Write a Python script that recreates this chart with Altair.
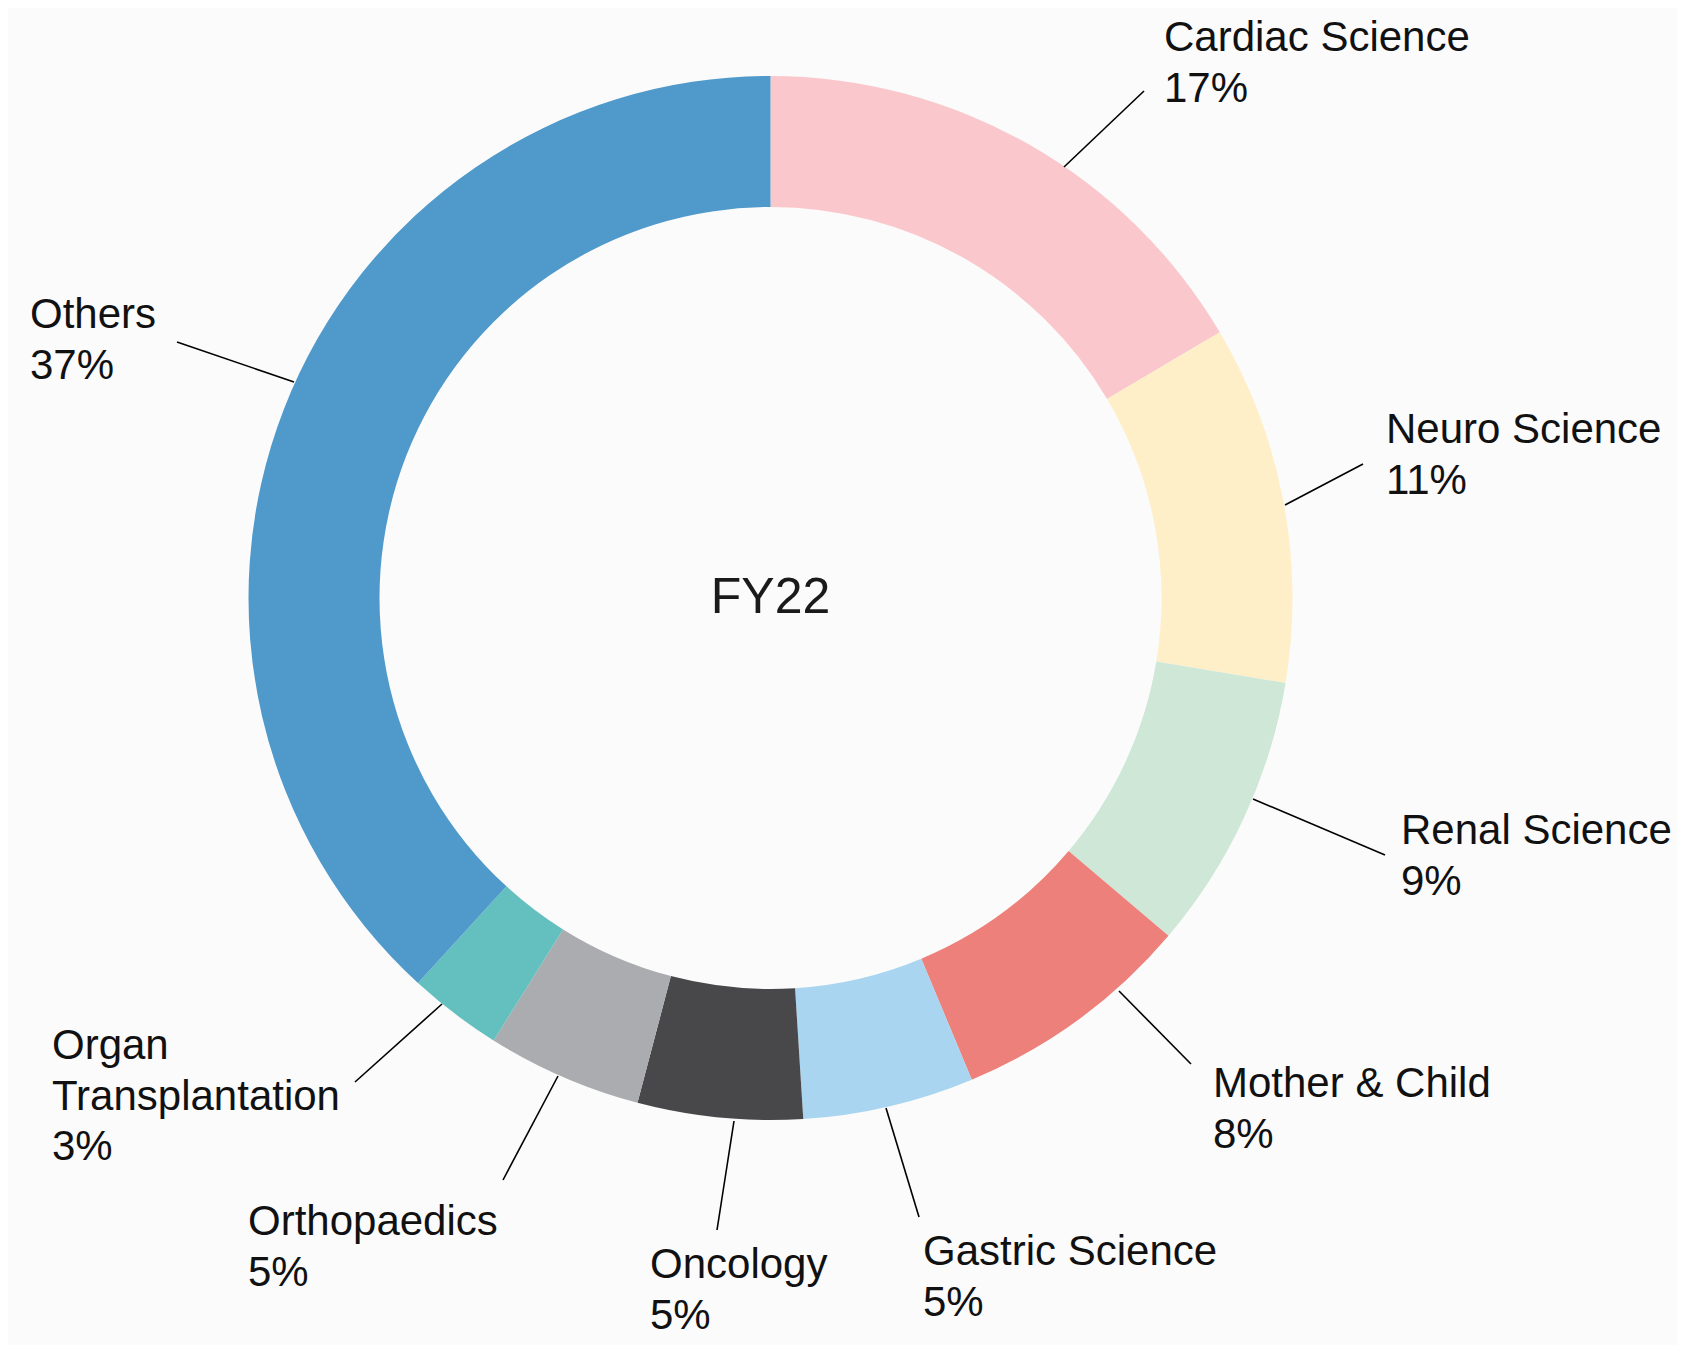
import altair as alt
import pandas as pd

# ---------------- data ----------------
categories = ["Cardiac Science", "Neuro Science", "Renal Science", "Mother & Child",
              "Gastric Science", "Oncology", "Orthopaedics", "Organ Transplantation", "Others"]
shares = [16.5, 11.1, 8.6, 7.5, 5.3, 5.1, 4.8, 2.9, 38.2]
pct_labels = ["17%", "11%", "9%", "8%", "5%", "5%", "5%", "3%", "37%"]
name_lines = [["Cardiac Science"], ["Neuro Science"], ["Renal Science"], ["Mother & Child"],
              ["Gastric Science"], ["Oncology"], ["Orthopaedics"], ["Organ", "Transplantation"],
              ["Others"]]
center_label = "FY22"

# ---------------- styles / layout ----------------
colors = ["#FAC8CC", "#FFEFC9", "#CEE7D6", "#EE807B", "#A9D5F0",
          "#48484A", "#ABACAF", "#64BFBF", "#4F99CB"]
W, H = 1669, 1337
CX, CY = 762.5, 590
R_OUT, R_IN = 522, 391
FONT = "Liberation Sans"
FS = 42
LINE_H = 50.5
# label anchor: left x, first-line centre y
label_pos = [(1156, 30), (1378, 422), (1393, 823), (1205, 1076), (915, 1244),
             (642, 1257), (240, 1214), (44, 1038), (22, 307)]
# leader lines: start, end
leaders = [((1056, 159), (1136, 83)), ((1277, 497), (1355, 456)), ((1245, 791), (1377, 847)),
           ((1111, 983), (1183, 1056)), ((878, 1100), (911, 1209)), ((726, 1113), (709, 1222)),
           ((550, 1068), (495, 1172)), ((434, 996), (347, 1074)), ((286, 374), (169, 334))]

# ---------------- tables ----------------
arc_df = pd.DataFrame({"category": categories, "share": shares, "order": list(range(len(categories)))})

rows = []
for i, (lines, pct) in enumerate(zip(name_lines, pct_labels)):
    x0, y0 = label_pos[i]
    for j, t in enumerate(lines + [pct]):
        rows.append({"x": x0, "y": y0 + j * LINE_H, "text": t})
text_df = pd.DataFrame(rows)

lead_df = pd.DataFrame([{"x": a[0], "y": a[1], "x2": b[0], "y2": b[1]} for a, b in leaders])

xs = alt.Scale(domain=[0, W], range=[0, W], nice=False, zero=False)
ys = alt.Scale(domain=[0, H], range=[0, H], nice=False, zero=False)

arc = alt.Chart(arc_df).mark_arc(radius=R_OUT, radius2=R_IN, stroke=None).encode(
    theta=alt.Theta("share:Q", stack=True),
    order=alt.Order("order:Q"),
    color=alt.Color("category:N", scale=alt.Scale(domain=categories, range=colors), legend=None),
    x=alt.value(CX),
    y=alt.value(CY),
)

lines_layer = alt.Chart(lead_df).mark_rule(color="#000000", strokeWidth=1.6).encode(
    x=alt.X("x:Q", scale=xs, axis=None),
    y=alt.Y("y:Q", scale=ys, axis=None),
    x2="x2:Q",
    y2="y2:Q",
)

labels = alt.Chart(text_df).mark_text(
    align="left", baseline="middle", font=FONT, fontSize=FS, color="#111111"
).encode(
    x=alt.X("x:Q", scale=xs, axis=None),
    y=alt.Y("y:Q", scale=ys, axis=None),
    text="text:N",
)

center = alt.Chart(pd.DataFrame({"t": [center_label]})).mark_text(
    align="center", baseline="middle", font=FONT, fontSize=50, color="#1a1a1a"
).encode(x=alt.value(CX), y=alt.value(CY), text="t:N")

chart = alt.layer(arc, lines_layer, labels, center).properties(
    width=W, height=H, background="#fbfbfb", padding=0,
    autosize=alt.AutoSizeParams(type="none"),
).configure_view(stroke=None)

chart.save("out.html", embed_options={"renderer": "svg", "actions": False})
